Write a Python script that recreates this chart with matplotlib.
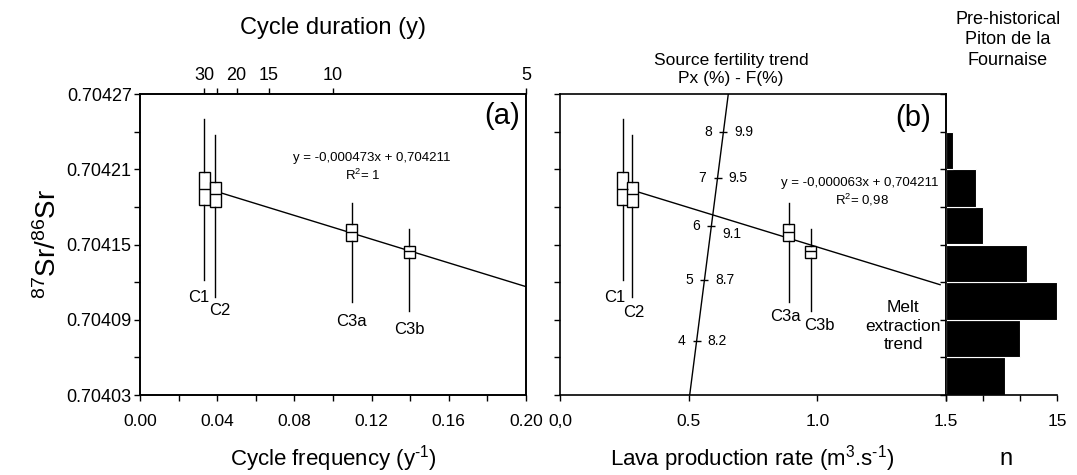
import matplotlib
matplotlib.use('Agg')
import matplotlib.pyplot as plt
import numpy as np

plt.rcParams['font.family'] = ['Liberation Sans', 'DejaVu Sans']
plt.rcParams['mathtext.fontset'] = 'custom'
plt.rcParams['mathtext.rm'] = 'Liberation Sans'
plt.rcParams['mathtext.it'] = 'Liberation Sans:italic'
plt.rcParams['mathtext.bf'] = 'Liberation Sans:bold'

# box plot data (87Sr/86Sr) per eruptive cycle
cycles = ['C1', 'C2', 'C3a', 'C3b']
freq = [0.0333, 0.0389, 0.1098, 0.1396]      # cycle frequency (1/y)
lava_rate = [0.244, 0.280, 0.889, 0.975]     # lava production rate (m3/s)
whis_hi = [0.704250, 0.704237, 0.704183, 0.704162]
q3 = [0.704208, 0.704200, 0.704166, 0.704149]
med = [0.7041945, 0.704190, 0.704160, 0.7041445]
q1 = [0.7041815, 0.704180, 0.704153, 0.704139]
whis_lo = [0.704122, 0.704108, 0.704104, 0.704097]

# regressions
slope_a, icpt_a = -0.000473, 0.704211
xrange_a = [0.0417, 0.2]
slope_b, icpt_b = -0.000063, 0.704211
xrange_b = [0.30, 1.477]

# source fertility trend
fert_line_x = [0.504, 0.654]
fert_line_y = [0.70403, 0.70427]
fert_y = [0.704073, 0.704122, 0.704165, 0.704203, 0.704240]
px_pct = ['4', '5', '6', '7', '8']
f_pct = ['8.2', '8.7', '9.1', '9.5', '9.9']

# pre-historical Piton de la Fournaise histogram
bin_lo = [0.70403, 0.70406, 0.70409, 0.70412, 0.70415, 0.70418, 0.70421]
counts = [8, 10, 15, 11, 5, 4, 1]
bin_h = 0.00003

durations = [30, 25, 20, 15, 10, 5]
dur_labels = ['30', '', '20', '15', '10', '5']
ylim = (0.70403, 0.70427)

W, H = 1077, 475
fig = plt.figure(figsize=(W / 100, H / 100), dpi=100)

def px(x, y):
    return x / W, 1 - y / H

ax_a = fig.add_axes([140 / W, 80 / H, 386 / W, 301 / H])
ax_b = fig.add_axes([560 / W, 80 / H, 386 / W, 301 / H])
ax_h = fig.add_axes([946 / W, 80 / H, 111 / W, 301 / H])

lw_sp = 1.2
for ax in (ax_a, ax_b, ax_h):
    for s in ax.spines.values():
        s.set_linewidth(lw_sp)
    ax.set_ylim(*ylim)
    ax.tick_params(direction='out', length=4, width=1, which='both')

box_kw = dict(showfliers=False, showcaps=False, patch_artist=True,
              boxprops=dict(facecolor='white', edgecolor='black', linewidth=1),
              medianprops=dict(color='black', linewidth=1),
              whiskerprops=dict(color='black', linewidth=1),
              manage_ticks=False, zorder=3)
stats = [dict(med=m, q1=a, q3=b, whislo=lo, whishi=hi, label=c)
         for c, m, a, b, lo, hi in zip(cycles, med, q1, q3, whis_lo, whis_hi)]

# ---- panel (a)
ax_a.bxp(stats, positions=freq, widths=0.0057, **box_kw)
xa = np.array(xrange_a)
ax_a.plot(xa, slope_a * xa + icpt_a, color='black', lw=1, zorder=2)
ax_a.set_xlim(0, 0.2)
ax_a.set_xticks(np.arange(0, 0.201, 0.04))
ax_a.set_xticklabels(['%.2f' % v for v in np.arange(0, 0.201, 0.04)])
ax_a.set_xticks(np.arange(0.02, 0.2, 0.04), minor=True)
yt = np.arange(0.70403, 0.704271, 0.00006)
ax_a.set_yticks(yt)
ax_a.set_yticklabels(['%.5f' % v for v in yt])
ax_a.set_yticks(np.arange(0.70406, 0.70427, 0.00006), minor=True)
ax_a.tick_params(axis='x', labelsize=12.5, pad=10)
ax_a.tick_params(axis='y', labelsize=13, pad=2)

top = ax_a.twiny()
top.set_xlim(0, 0.2)
top.set_xticks([1 / d for d in durations])
top.set_xticklabels(dur_labels)
top.tick_params(direction='out', length=4, width=1, labelsize=13, pad=3)
for s in top.spines.values():
    s.set_linewidth(lw_sp)

lab_a = [(0.0302, 0.704108), (0.0411, 0.704097), (0.1094, 0.704089), (0.1396, 0.704082)]
for c, (x, y) in zip(cycles, lab_a):
    ax_a.text(x, y, c, ha='center', va='center', fontsize=12)
ax_a.text(0.1202, 0.7042186, 'y = -0,000473x + 0,704211', ha='center', va='center', fontsize=9.5)
ax_a.text(0.1156, 0.7042048, 'R$^2$= 1', ha='center', va='center', fontsize=9.5)
ax_a.text(0.1875, 0.7042525, '(a)', ha='center', va='center', fontsize=21)

# ---- panel (b)
ax_b.bxp(stats, positions=lava_rate, widths=0.043, **box_kw)
xb = np.array(xrange_b)
ax_b.plot(xb, slope_b * xb + icpt_b, color='black', lw=1, zorder=2)
ax_b.plot(fert_line_x, fert_line_y, color='black', lw=1, zorder=2)
fert_x = np.interp(fert_y, fert_line_y, fert_line_x)
ax_b.plot(fert_x, fert_y, ls='none', marker='_', ms=6, mew=1, color='black')
for x, y, p, f in zip(fert_x, fert_y, px_pct, f_pct):
    ax_b.annotate(p, (x, y), xytext=(-8, 0), textcoords='offset points',
                  ha='right', va='center', fontsize=10)
    dy = -6 if p == '6' else 0
    ax_b.annotate(f, (x, y), xytext=(8, dy), textcoords='offset points',
                  ha='left', va='center', fontsize=10)
ax_b.set_xlim(0, 1.5)
ax_b.set_xticks([0, 0.5, 1.0, 1.5])
ax_b.set_xticklabels(['0,0', '0.5', '1.0', '1.5'])
ax_b.set_yticks(np.arange(0.70403, 0.704271, 0.00003))
ax_b.set_yticklabels([])
ax_b.tick_params(axis='x', labelsize=12.5, pad=10)

lab_b = [(0.214, 0.704108), (0.288, 0.7040954), (0.877, 0.7040922), (1.007, 0.7040856)]
for c, (x, y) in zip(cycles, lab_b):
    ax_b.text(x, y, c, ha='center', va='center', fontsize=12)
ax_b.text(1.166, 0.7041987, 'y = -0,000063x + 0,704211', ha='center', va='center', fontsize=9.5)
ax_b.text(1.1725, 0.7041855, 'R$^2$= 0,98', ha='center', va='center', fontsize=9.5)
ax_b.text(1.372, 0.704251, '(b)', ha='center', va='center', fontsize=21)
ax_b.text(1.333, 0.704085, 'Melt\nextraction\ntrend', ha='center', va='center',
          fontsize=12.5, linespacing=1.3)

# ---- histogram
ax_h.barh(bin_lo, counts, height=bin_h, align='edge', color='black',
          edgecolor='white', linewidth=0.8)
ax_h.set_xlim(0, 15)
ax_h.set_xticks([0, 5, 10, 15])
ax_h.set_xticklabels(['', '', '', '15'])
ax_h.set_yticks(np.arange(0.70403, 0.704271, 0.00003))
ax_h.set_yticklabels([])
ax_h.spines['top'].set_visible(False)
ax_h.spines['right'].set_visible(False)
ax_h.tick_params(axis='x', labelsize=12.5, pad=10)
ax_h.patch.set_alpha(0)

# ---- figure-level labels
fig.text(*px(333, 28), 'Cycle duration (y)', ha='center', va='center', fontsize=17)
fig.text(*px(333, 459), r'Cycle frequency (y$^{\text{-}1}$)', ha='center', va='center', fontsize=16)
fig.text(*px(752, 459), r'Lava production rate (m$^{3}$.s$^{\text{-}1}$)', ha='center', va='center', fontsize=16)
fig.text(*px(1006, 459), 'n', ha='center', va='center', fontsize=17)
fig.text(*px(48, 244), '$^{87}$Sr/$^{86}$Sr', ha='center', va='center', fontsize=20, rotation=90)
fig.text(*px(731, 70), 'Source fertility trend\nPx (%) - F(%)', ha='center', va='center',
         fontsize=12.5, linespacing=1.25)
fig.text(*px(1008, 40), 'Pre-historical\nPiton de la\nFournaise', ha='center', va='center',
         fontsize=13, linespacing=1.3)

fig.savefig('out.png', dpi=100)
